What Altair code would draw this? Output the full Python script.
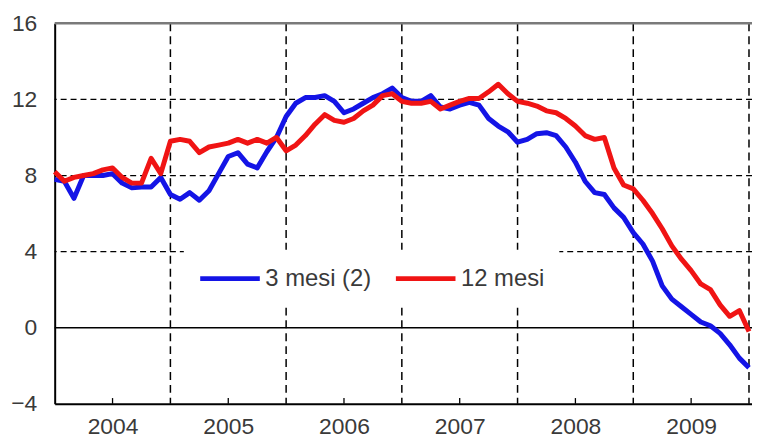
import altair as alt
import pandas as pd

# monthly values, Jan 2004 .. Jan 2010
blue = [7.8, 7.7, 6.8, 8.0, 8.0, 8.0, 8.1, 7.6, 7.35, 7.4, 7.4, 7.9,
        7.0, 6.75, 7.1, 6.7, 7.2, 8.1, 9.0, 9.2, 8.6, 8.4, 9.25, 10.0,
        11.1, 11.8, 12.1, 12.1, 12.2, 11.9, 11.3, 11.5, 11.8, 12.1, 12.3, 12.6,
        12.1, 11.9, 11.9, 12.2, 11.6, 11.5, 11.7, 11.85, 11.7, 11.0, 10.6, 10.3,
        9.75, 9.9, 10.2, 10.25, 10.1, 9.5, 8.7, 7.7, 7.1, 7.0, 6.3, 5.8,
        5.0, 4.4, 3.5, 2.2, 1.5, 1.1, 0.7, 0.3, 0.1, -0.3, -0.9, -1.6,
        -2.1]
red = [8.2, 7.7, 7.9, 8.0, 8.1, 8.3, 8.4, 7.9, 7.6, 7.6, 8.9, 8.1,
       9.8, 9.9, 9.8, 9.2, 9.5, 9.6, 9.7, 9.9, 9.7, 9.9, 9.7, 10.0,
       9.3, 9.6, 10.1, 10.7, 11.2, 10.9, 10.8, 11.0, 11.4, 11.7, 12.2, 12.3,
       11.9, 11.8, 11.8, 11.9, 11.5, 11.7, 11.9, 12.05, 12.05, 12.4, 12.8, 12.3,
       11.9, 11.8, 11.65, 11.4, 11.3, 11.0, 10.6, 10.1, 9.9, 10.0, 8.4, 7.5,
       7.3, 6.7, 6.0, 5.2, 4.3, 3.6, 3.0, 2.3, 2.0, 1.2, 0.6, 0.9,
       -0.2]
series_names = ["3 mesi (2)", "12 mesi"]
series_colors = ["#1414e6", "#f01414"]
years = [2004, 2005, 2006, 2007, 2008, 2009]
y_ticks = [-4, 0, 4, 8, 12, 16]
grid_levels = [4, 8, 12]
year_bounds = [2005, 2006, 2007, 2008, 2009, 2010]

t = [2004 + m / 12 for m in range(len(blue))]
df = pd.DataFrame({
    "t": t * 2,
    "v": blue + red,
    "s": [series_names[0]] * len(blue) + [series_names[1]] * len(red),
})

FONT = "Liberation Sans"
LABEL_COLOR = "#3a3a3a"

xscale = alt.Scale(domain=[2004, 2010.026], nice=False, zero=False)
yscale = alt.Scale(domain=[-4, 16], nice=False, zero=False)
xaxis = alt.Axis(values=[y + 0.5 for y in years], labelExpr="floor(datum.value)",
                 title=None, grid=False, ticks=False, domainColor="black",
                 domainWidth=2, labelFontSize=23, labelFont=FONT,
                 labelColor=LABEL_COLOR, labelPadding=12)
yaxis = alt.Axis(values=y_ticks, title=None, grid=False, ticks=False,
                 domainColor="black", domainWidth=2, labelFontSize=23,
                 labelFont=FONT, labelColor=LABEL_COLOR, labelPadding=18)

X = lambda f="t": alt.X(f"{f}:Q", scale=xscale, axis=xaxis)
Y = lambda f="v": alt.Y(f"{f}:Q", scale=yscale, axis=yaxis)

hgrid = alt.Chart(pd.DataFrame({"v": grid_levels})).mark_rule(
    color="black", strokeWidth=1.3, strokeDash=[6, 4]).encode(y=Y())

vgrid = alt.Chart(pd.DataFrame({"t": year_bounds})).mark_rule(
    color="black", strokeWidth=1.5, strokeDash=[8, 5]).encode(x=X())

zero = alt.Chart(pd.DataFrame({"v": [0]})).mark_rule(
    color="black", strokeWidth=1.5).encode(y=Y())

top = alt.Chart(pd.DataFrame({"v": [16]})).mark_rule(
    color="#7a7a7a", strokeWidth=2.5).encode(y=Y())

ticks = alt.Chart(pd.DataFrame({"t": [y + 0.5 for y in years],
                                "v": [-4] * 6, "v2": [-3.7] * 6})).mark_rule(
    color="black", strokeWidth=1.3).encode(x=X(), y=Y(), y2="v2:Q")

color = alt.Color("s:N", title=None,
                  scale=alt.Scale(domain=series_names, range=series_colors),
                  legend=alt.Legend(orient="none", legendX=130, legendY=228,
                                    direction="horizontal", symbolType="stroke",
                                    symbolSize=3600, symbolStrokeWidth=5,
                                    clipHeight=30,
                                    labelFontSize=24, labelFont=FONT,
                                    labelColor=LABEL_COLOR, labelOffset=3,
                                    columnPadding=22, padding=14,
                                    fillColor="white"))

line_blue = alt.Chart(df[df.s == series_names[0]]).mark_line(
    strokeWidth=5, strokeJoin="round").encode(x=X(), y=Y(), color=color)
line_red = alt.Chart(df[df.s == series_names[1]]).mark_line(
    strokeWidth=5, strokeJoin="round").encode(x=X(), y=Y(), color=color)

chart = alt.layer(hgrid, vgrid, zero, top, ticks, line_blue, line_red).properties(
    width=702, height=383,
    autosize=alt.AutoSizeParams(type="none"),
    padding={"left": 47, "top": 14, "right": 0, "bottom": 34},
    background="white",
).configure_view(stroke=None)

chart.save("out.html", embed_options={"renderer": "svg", "actions": False})
